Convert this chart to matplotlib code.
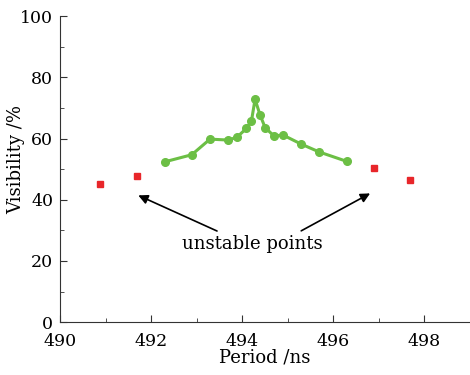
import matplotlib
matplotlib.use("Agg")
import matplotlib.pyplot as plt
from matplotlib.ticker import MultipleLocator

# stable points (green line)
period = [492.30, 492.89, 493.29, 493.69, 493.88, 494.09, 494.20, 494.28,
          494.39, 494.50, 494.69, 494.90, 495.29, 495.69, 496.30]
visibility = [52.4, 54.7, 59.8, 59.5, 60.4, 63.3, 65.7, 72.8,
              67.7, 63.6, 60.9, 61.1, 58.2, 55.6, 52.5]

# unstable points (red squares)
unstable_period = [490.88, 491.69, 496.89, 497.69]
unstable_vis = [45.0, 47.8, 50.4, 46.6]

plt.rcParams['font.family'] = ['DejaVu Serif']
plt.rcParams['mathtext.fontset'] = 'dejavuserif'

fig = plt.figure(figsize=(4.7, 3.75), dpi=100)
ax = fig.add_axes([0.128, 0.141, 0.872, 0.816])

ax.plot(period, visibility, color='#6cbf45', lw=2.2, marker='o', ms=5.5)
ax.plot(unstable_period, unstable_vis, ls='none', marker='s', ms=5,
        color='#e8262a')

ax.annotate('', xy=(491.66, 41.8), xytext=(493.5, 29.4),
            arrowprops=dict(arrowstyle='-|>', color='black', lw=1.2,
                            mutation_scale=14))
ax.annotate('', xy=(496.86, 42.5), xytext=(495.24, 29.4),
            arrowprops=dict(arrowstyle='-|>', color='black', lw=1.2,
                            mutation_scale=14))
ax.text(494.23, 25.5, 'unstable points', ha='center', va='center', fontsize=13)

ax.set_xlim(490, 499)
ax.set_ylim(0, 100)
ax.xaxis.set_major_locator(MultipleLocator(2))
ax.xaxis.set_minor_locator(MultipleLocator(1))
ax.yaxis.set_major_locator(MultipleLocator(20))
ax.yaxis.set_minor_locator(MultipleLocator(10))
ax.tick_params(which='both', direction='in', color='#333333', labelsize=12.5)
ax.tick_params(which='major', length=5)
ax.tick_params(which='minor', length=3)
ax.tick_params(axis='x', pad=8)
ax.tick_params(axis='y', pad=5)

for side in ('top', 'right'):
    ax.spines[side].set_visible(False)
for side in ('left', 'bottom'):
    ax.spines[side].set_color('#333333')

ax.set_xlabel('Period /ns', fontsize=13, labelpad=-1)
ax.set_ylabel('Visibility /%', fontsize=13)
ax.yaxis.set_label_coords(-0.085, 0.53)

fig.savefig('out.png', dpi=100)
